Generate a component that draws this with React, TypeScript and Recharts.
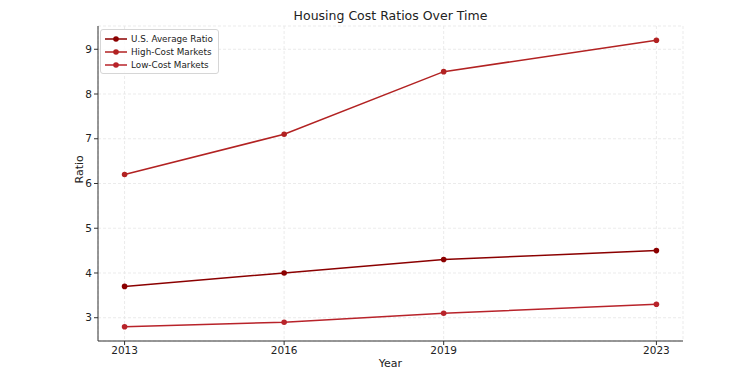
import React from 'react';
import { LineChart, Line, XAxis, YAxis, CartesianGrid } from 'recharts';

const years = [2013, 2016, 2019, 2023];
const usAverage = [3.7, 4.0, 4.3, 4.5];
const highCost = [6.2, 7.1, 8.5, 9.2];
const lowCost = [2.8, 2.9, 3.1, 3.3];
const yTicks = [3, 4, 5, 6, 7, 8, 9];

const seriesInfo = [
  { key: 'us', name: 'U.S. Average Ratio', color: '#8b0000' },
  { key: 'high', name: 'High-Cost Markets', color: '#b22222' },
  { key: 'low', name: 'Low-Cost Markets', color: '#b8232a' },
];

const font = 'DejaVu Sans, sans-serif';

// legend drawn as overlay so it doesn't eat plot space
const LegendBox = () => (
  <div
    style={{
      position: 'absolute',
      top: 29,
      left: 100,
      border: '1px solid #d6d6d6',
      borderRadius: 3,
      background: 'rgba(255,255,255,0.85)',
      padding: '2px 5px 2px 4px',
      fontFamily: font,
      fontSize: 8.8,
      color: '#222',
    }}
  >
    {seriesInfo.map(s => (
      <div key={s.key} style={{ display: 'flex', alignItems: 'center', height: 13 }}>
        <svg width={22} height={8} style={{ marginRight: 4 }}>
          <line x1={0} y1={4} x2={22} y2={4} stroke={s.color} strokeWidth={1.5} />
          <circle cx={11} cy={4} r={2.8} fill={s.color} />
        </svg>
        <span>{s.name}</span>
      </div>
    ))}
  </div>
);

export default function App() {
  const data = years.map((y, i) => ({
    year: y,
    us: usAverage[i],
    high: highCost[i],
    low: lowCost[i],
  }));

  return (
    <div style={{ position: 'absolute', left: 0, top: 0, width: 750, height: 375, background: '#fff' }}>
      <div
        style={{
          position: 'absolute',
          top: 8,
          left: 98,
          width: 585,
          textAlign: 'center',
          fontFamily: font,
          fontSize: 12.5,
          color: '#222',
        }}
      >
        Housing Cost Ratios Over Time
      </div>
      <LineChart width={750} height={375} data={data} margin={{ top: 26, right: 67, bottom: 0, left: 58 }}>
        <CartesianGrid stroke="#e6e6e6" strokeDasharray="3 2" strokeWidth={0.8} />
        <XAxis
          dataKey="year"
          type="number"
          domain={[2012.5, 2023.5]}
          ticks={years}
          height={34}
          tickSize={4}
          tickMargin={2}
          stroke="#333"
          tick={{ fontSize: 10.5, fontFamily: font, fill: '#222' }}
          label={{ value: 'Year', position: 'insideBottom', offset: 8, fontSize: 11, fontFamily: font, fill: '#222' }}
        />
        <YAxis
          type="number"
          domain={[2.48, 9.52]}
          ticks={yTicks}
          width={40}
          tickSize={4}
          tickMargin={2}
          stroke="#333"
          tick={{ fontSize: 10.5, fontFamily: font, fill: '#222' }}
          label={{ value: 'Ratio', angle: -90, position: 'insideLeft', offset: 21, fontSize: 11, fontFamily: font, fill: '#222' }}
        />
        {seriesInfo.map(s => (
          <Line
            key={s.key}
            dataKey={s.key}
            name={s.name}
            stroke={s.color}
            strokeWidth={1.5}
            dot={{ r: 2.8, fill: s.color, stroke: s.color, strokeWidth: 0 }}
            isAnimationActive={false}
          />
        ))}
      </LineChart>
      <LegendBox />
    </div>
  );
}
